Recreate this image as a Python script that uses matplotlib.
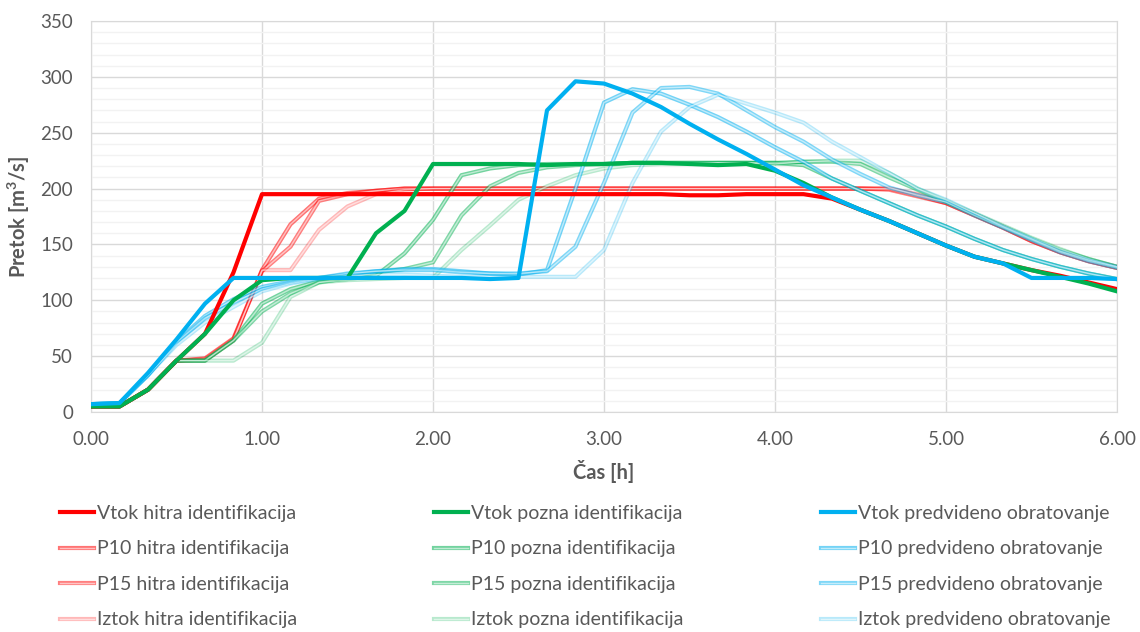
import matplotlib
matplotlib.use("Agg")
import matplotlib.pyplot as plt
import matplotlib.patheffects as pe
from matplotlib.ticker import MultipleLocator, FormatStrFormatter
import numpy as np

plt.rcParams["font.family"] = ["Lato", "DejaVu Sans"]
plt.rcParams["mathtext.fontset"] = "custom"
plt.rcParams["mathtext.rm"] = "Lato"
plt.rcParams["mathtext.bf"] = "Lato:bold"

# time axis: 10 minute steps, 0 .. 6 h
t = np.arange(37) / 6.0

# ---- hitra identifikacija (red) ----
vtok_hitra = [5, 5, 20, 46, 70, 125, 195, 195, 195, 195, 195, 195, 195, 195, 195, 195,
              195, 195, 195, 195, 195, 194, 194, 195, 195, 195, 191, 181, 171, 160, 149,
              139, 133, 127, 122, 116, 110]
p10_hitra = [5, 5, 20, 46, 48, 66, 127, 168, 191, 196, 198, 200, 200, 200, 200, 200,
             200, 200, 200, 200, 200, 200, 200, 200, 200, 200, 200, 200, 200, 194, 187,
             176, 165, 153, 143, 135, 129]
p15_hitra = [5, 5, 20, 46, 47, 65, 126, 148, 189, 195, 198, 200, 200, 200, 200, 200,
             200, 200, 200, 200, 200, 200, 200, 200, 200, 200, 200, 200, 199, 193, 187,
             176, 165, 153, 143, 135, 129]
iztok_hitra = [5, 5, 20, 46, 46, 64, 127, 127, 163, 184, 195, 199, 200, 200, 200, 200,
               200, 200, 200, 200, 200, 200, 200, 200, 200, 200, 200, 200, 200, 195, 188,
               177, 166, 154, 144, 136, 130]

# ---- pozna identifikacija (green) ----
vtok_pozna = [5, 5, 20, 46, 70, 100, 118, 120, 120, 120, 160, 180, 222, 222, 222, 222,
              221, 222, 222, 223, 223, 222, 221, 222, 216, 205, 192, 181, 171, 160, 149,
              139, 133, 127, 121, 115, 108]
p10_pozna = [5, 5, 20, 46, 46, 64, 97, 110, 117, 119, 122, 142, 172, 212, 218, 221,
             222, 222, 222, 223, 223, 223, 223, 223, 223, 221, 209, 198, 187, 176, 166,
             155, 145, 137, 130, 124, 119]
p15_pozna = [5, 5, 20, 46, 46, 64, 90, 106, 116, 120, 125, 128, 134, 176, 202, 214,
             219, 221, 222, 223, 223, 223, 223, 223, 223, 224, 224, 222, 210, 199, 188,
             177, 166, 155, 145, 137, 130]
iztok_pozna = [5, 5, 20, 46, 46, 46, 62, 103, 116, 118, 119, 120, 120, 145, 167, 190,
               202, 212, 218, 221, 222, 222, 223, 223, 222, 224, 225, 225, 214, 200, 189,
               178, 167, 156, 146, 137, 130]

# ---- predvideno obratovanje (blue) ----
vtok_pred = [7, 8, 35, 65, 97, 120, 120, 120, 120, 120, 120, 120, 120, 120, 119, 120,
             270, 296, 294, 285, 273, 258, 244, 231, 217, 203, 192, 181, 171, 160, 149,
             139, 133, 120, 120, 120, 119]
p10_pred = [7, 8, 33, 63, 86, 101, 112, 117, 120, 123, 126, 128, 128, 126, 124, 123,
            127, 200, 277, 289, 285, 275, 264, 251, 237, 224, 209, 198, 187, 176, 166,
            155, 145, 137, 130, 124, 119]
p15_pred = [7, 8, 33, 62, 84, 98, 110, 116, 120, 124, 126, 127, 127, 125, 124, 124,
            126, 148, 205, 268, 290, 291, 285, 270, 255, 242, 226, 213, 201, 194, 188,
            176, 165, 154, 143, 135, 129]
iztok_pred = [7, 8, 33, 60, 80, 94, 108, 115, 119, 122, 123, 123, 122, 121, 121, 121,
              121, 121, 145, 205, 251, 273, 284, 276, 268, 259, 242, 228, 214, 200, 190,
              178, 166, 155, 144, 136, 130]

RED, GREEN, BLUE = "#FF0000", "#00B050", "#00B0F0"
GRAY = "#595959"

groups = [
    ("hitra identifikacija", RED, [vtok_hitra, p10_hitra, p15_hitra, iztok_hitra]),
    ("pozna identifikacija", GREEN, [vtok_pozna, p10_pozna, p15_pozna, iztok_pozna]),
    ("predvideno obratovanje", BLUE, [vtok_pred, p10_pred, p15_pred, iztok_pred]),
]
prefixes = ["Vtok", "P10", "P15", "Iztok"]
alphas = [1.0, 0.55, 0.5, 0.28]

fig = plt.figure(figsize=(11.4, 6.32), dpi=100)
ax = fig.add_axes([91 / 1140, 1 - 412 / 632, (1117 - 91) / 1140, (412 - 21) / 632])

handles = []
labels = []
for name, col, series in groups:
    for k, (pre, ys) in enumerate(zip(prefixes, series)):
        if k == 0:
            ln, = ax.plot(t, ys, color=col, lw=3.0, solid_joinstyle="round", zorder=5)
        else:
            # compound (double) line look
            ln, = ax.plot(t, ys, color=col, lw=0.0, zorder=3)
            ln.set_path_effects([
                pe.Stroke(linewidth=3.0, foreground=col, alpha=alphas[k]),
                pe.Stroke(linewidth=1.0, foreground="white", alpha=0.55),
            ])
        handles.append(ln)
        labels.append(f"{pre} {name}")

ax.set_xlim(0, 6)
ax.set_ylim(0, 350)
ax.xaxis.set_major_locator(MultipleLocator(1))
ax.xaxis.set_major_formatter(FormatStrFormatter("%.2f"))
ax.yaxis.set_major_locator(MultipleLocator(50))
ax.yaxis.set_minor_locator(MultipleLocator(10))
ax.grid(which="major", color="#D9D9D9", lw=1.0)
ax.grid(which="minor", axis="y", color="#F2F2F2", lw=1.0)
ax.set_axisbelow(True)
for s in ax.spines.values():
    s.set_color("#D9D9D9")
ax.tick_params(which="both", length=0, labelsize=13.5, labelcolor=GRAY)
ax.tick_params(axis="x", pad=14)
ax.tick_params(axis="y", pad=13)

ax.set_xlabel("Čas [h]", fontsize=14.5, fontweight="bold", color=GRAY, labelpad=8)
ax.set_ylabel(r"Pretok [m$^{\mathbf{3}}$/s]", fontsize=14.5, fontweight="bold",
              color=GRAY, labelpad=6)

# ncol=3 fills column-wise -> col1 red, col2 green, col3 blue
leg = fig.legend(handles, labels, ncol=3, mode="expand", frameon=False,
                 loc="upper left", bbox_to_anchor=(60 / 1140, 0, (1110 - 60) / 1140, 1 - 505 / 632),
                 fontsize=14, handlelength=1.75, handletextpad=0.15,
                 labelspacing=0.95, borderpad=0, borderaxespad=0)
for txt in leg.get_texts():
    txt.set_color(GRAY)

fig.savefig("out.png", dpi=100)
